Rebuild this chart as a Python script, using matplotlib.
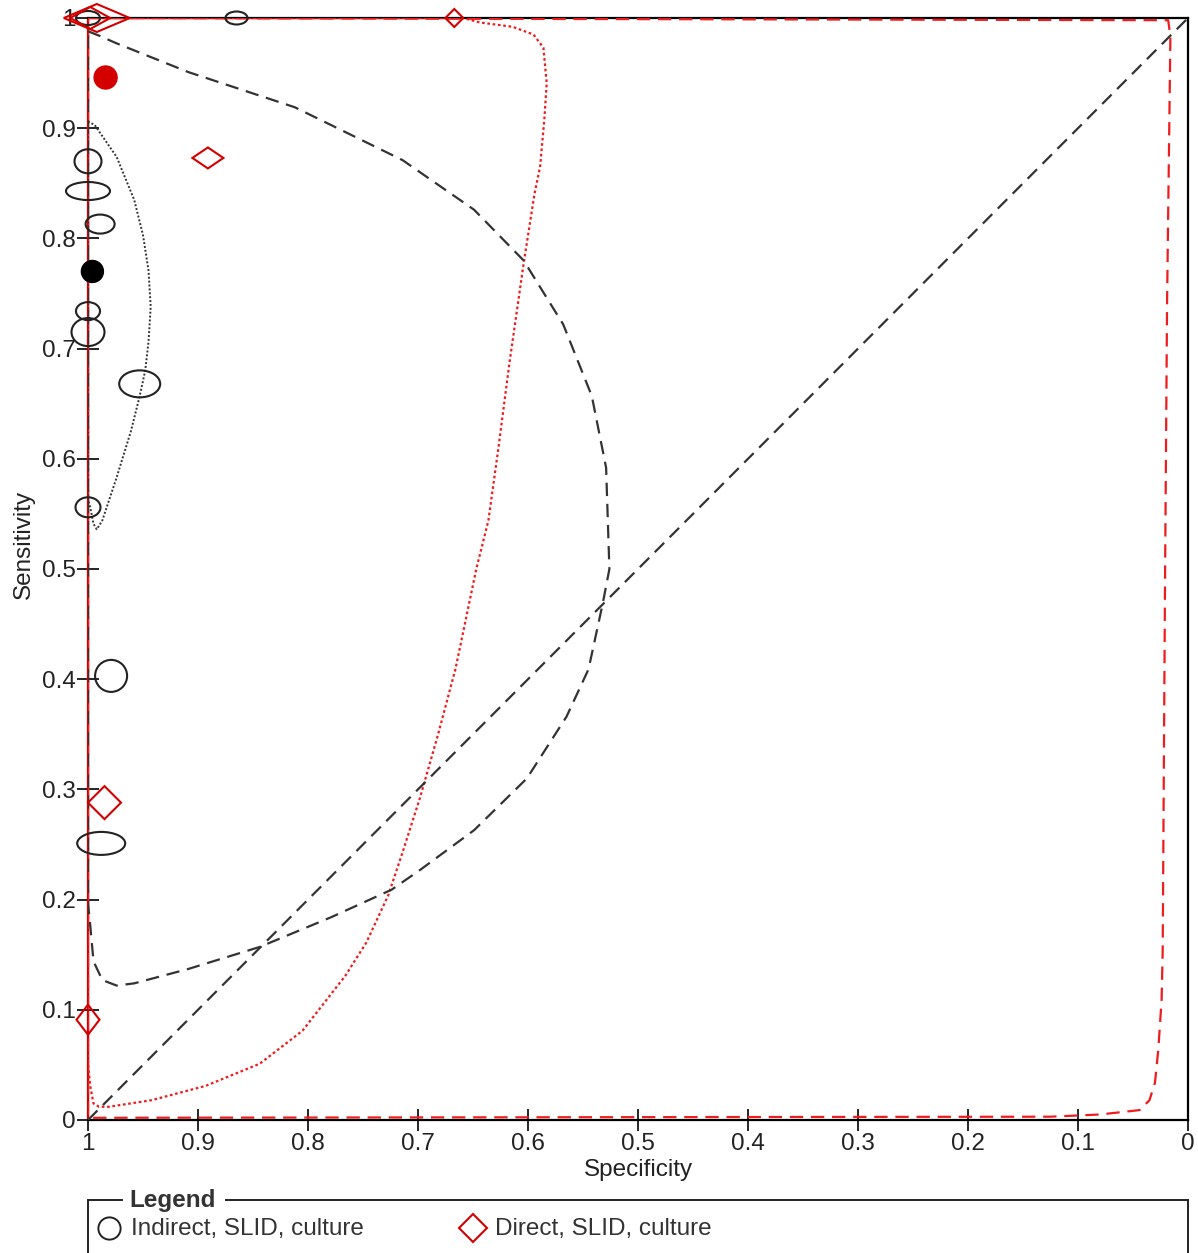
import matplotlib
matplotlib.use("Agg")
import matplotlib.pyplot as plt
from matplotlib.patches import Ellipse, Polygon
from matplotlib.lines import Line2D

plt.rcParams['font.family'] = ['Liberation Sans', 'DejaVu Sans']

# ---------------- data ----------------
# Indirect, SLID, culture studies (specificity, sensitivity, relative size in neg / pos)
ind_spec = [1.0, 0.865, 1.0, 1.0, 0.989, 1.0, 1.0, 0.953, 1.0, 0.979, 0.988]
ind_sens = [1.0, 1.0, 0.870, 0.843, 0.813, 0.734, 0.715, 0.668, 0.556, 0.403, 0.251]
ind_nneg = [24, 22, 27, 44, 29, 24, 33, 41, 25, 32, 48]
ind_npos = [14, 13, 24, 18, 19, 18, 28, 27, 20, 32, 23]
ind_summary = (0.996, 0.770)

# Direct, SLID, culture studies
dir_spec = [0.992, 0.998, 0.667, 0.891, 0.985, 1.0]
dir_sens = [1.0, 1.0, 1.0, 0.873, 0.288, 0.091]
dir_nneg = [66, 40, 18, 31, 33, 23]
dir_npos = [28, 22, 18, 21, 33, 30]
dir_summary = (0.984, 0.946)

# Indirect: 95% confidence region (dotted) and prediction region (dashed)
ind_conf_spec = [1.0, 0.994, 0.974, 0.958, 0.950, 0.945, 0.943, 0.945, 0.948, 0.953,
                 0.961, 0.974, 0.987, 0.992, 0.995, 0.998, 1.0, 1.0]
ind_conf_sens = [0.906, 0.903, 0.874, 0.835, 0.803, 0.771, 0.738, 0.706, 0.680, 0.657,
                 0.625, 0.583, 0.544, 0.536, 0.541, 0.556, 0.563, 0.906]
ind_pred_spec = [1.0, 0.990, 0.974, 0.909, 0.812, 0.714, 0.649, 0.604, 0.568, 0.542, 0.529,
                 0.526, 0.532, 0.545, 0.565, 0.601, 0.649, 0.698, 0.724, 0.779, 0.844,
                 0.909, 0.958, 0.974, 0.987, 0.995, 0.998, 1.0, 1.0]
ind_pred_sens = [0.988, 0.984, 0.977, 0.951, 0.919, 0.871, 0.826, 0.780, 0.722, 0.657, 0.592,
                 0.500, 0.469, 0.409, 0.366, 0.310, 0.263, 0.227, 0.209, 0.184, 0.157,
                 0.137, 0.124, 0.122, 0.127, 0.144, 0.177, 0.197, 0.988]

# Direct: 95% confidence region (dotted) and prediction region (dashed)
dir_conf_spec = [1.0, 0.659, 0.644, 0.614, 0.595, 0.586, 0.583, 0.585, 0.589, 0.594, 0.604,
                 0.617, 0.627, 0.636, 0.647, 0.666, 0.682, 0.698, 0.714, 0.727, 0.747,
                 0.766, 0.805, 0.844, 0.893, 0.942, 0.981, 0.990, 0.995, 0.998, 1.0, 1.0]
dir_conf_sens = [1.0, 1.0, 0.996, 0.992, 0.985, 0.973, 0.941, 0.910, 0.865, 0.841, 0.777,
                 0.686, 0.609, 0.544, 0.500, 0.409, 0.349, 0.293, 0.243, 0.204, 0.161,
                 0.131, 0.081, 0.051, 0.031, 0.018, 0.012, 0.012, 0.015, 0.031, 0.051, 1.0]
dir_pred_spec = [1.0, 0.018, 0.016, 0.019, 0.021, 0.023, 0.024, 0.027, 0.030, 0.035,
                 0.044, 0.080, 0.125, 1.0, 1.0]
dir_pred_sens = [1.0, 0.998, 0.983, 0.744, 0.472, 0.154, 0.109, 0.064, 0.034, 0.018,
                 0.009, 0.005, 0.003, 0.002, 1.0]

# reference diagonal
diag_spec = [1.0, 0.0]
diag_sens = [0.0, 1.0]

tick_vals = [1.0, 0.9, 0.8, 0.7, 0.6, 0.5, 0.4, 0.3, 0.2, 0.1, 0.0]
tick_labels = ['1', '0.9', '0.8', '0.7', '0.6', '0.5', '0.4', '0.3', '0.2', '0.1', '0']
legend_labels = ['Indirect, SLID, culture', 'Direct, SLID, culture']

# ---------------- figure ----------------
W, H, DPI = 1198, 1253, 100
fig = plt.figure(figsize=(W / DPI, H / DPI), dpi=DPI)
L, R, T, B = 88, 1188, 18, 1120
ax = fig.add_axes([L / W, 1 - B / H, (R - L) / W, (B - T) / H])
ax.set_xlim(1, 0)
ax.set_ylim(0, 1)

RED = '#d40000'
RED_L = '#ee1c1c'
px_x = (R - L)  # pixels per unit spec
px_y = (B - T)  # pixels per unit sens
FS = 17.5

# regions
ax.plot(dir_pred_spec, dir_pred_sens, color=RED_L, lw=1.6, dashes=(6, 3.5), zorder=3)
ax.plot(dir_conf_spec, dir_conf_sens, color=RED_L, lw=1.6, dashes=(1.2, 1.2), zorder=3)
ax.plot(diag_spec, diag_sens, color='#333333', lw=1.6, dashes=(6, 3.5), zorder=3)
ax.plot(ind_pred_spec, ind_pred_sens, color='#333333', lw=1.6, dashes=(6, 3.5), zorder=3)
ax.plot(ind_conf_spec, ind_conf_sens, color='#333333', lw=1.4, dashes=(1, 1), zorder=3)
# solid red along left edge (overlapping region boundaries)
ax.plot([1.0, 1.0], [0.0, 1.0], color=RED, lw=1.6, zorder=2.8)
ax.plot([1.0, 0.659], [1.0, 1.0], color=RED, lw=1.6, zorder=2.8)

# study markers
for x, y, w, h in zip(ind_spec, ind_sens, ind_nneg, ind_npos):
    e = Ellipse((x, y), w / px_x, h / px_y, fill=False, ec='#222222', lw=1.5,
                clip_on=False, zorder=5)
    ax.add_patch(e)
for x, y, w, h in zip(dir_spec, dir_sens, dir_nneg, dir_npos):
    dx, dy = w / px_x / 2, h / px_y / 2
    p = Polygon([(x - dx, y), (x, y + dy), (x + dx, y), (x, y - dy)], closed=True,
                fill=False, ec=RED, lw=1.5, clip_on=False, zorder=5)
    ax.add_patch(p)

ax.add_patch(Ellipse(ind_summary, 22 / px_x, 22 / px_y, fc='black', ec='black',
                     clip_on=False, zorder=6))
ax.add_patch(Ellipse(dir_summary, 23 / px_x, 23 / px_y, fc=RED, ec=RED,
                     clip_on=False, zorder=6))

# axes styling
ax.set_xticks(tick_vals)
ax.set_xticklabels(tick_labels)
ax.set_yticks(tick_vals)
ax.set_yticklabels(tick_labels)
ax.tick_params(direction='inout', length=16, width=1.2, labelsize=FS,
               labelcolor='#222222', pad=1)
for s in ax.spines.values():
    s.set_linewidth(1.6)
    s.set_color('black')
ax.spines['left'].set_color(RED)
ax.set_xlabel('Specificity', fontsize=FS, color='#222222', labelpad=3)
ax.set_ylabel('Sensitivity', fontsize=FS, color='#222222')
ax.yaxis.set_label_coords(-0.048, 0.522)

# legend box
def fx(p):
    return p / W

def fy(p):
    return 1 - p / H

lw = 1.4
fig.add_artist(Line2D([fx(88), fx(122)], [fy(1200), fy(1200)], color='#222222', lw=lw))
fig.add_artist(Line2D([fx(226), fx(1188)], [fy(1200), fy(1200)], color='#222222', lw=lw))
fig.add_artist(Line2D([fx(88), fx(88)], [fy(1200), fy(1253)], color='#222222', lw=lw))
fig.add_artist(Line2D([fx(1188), fx(1188)], [fy(1200), fy(1253)], color='#222222', lw=lw))
fig.text(fx(129), fy(1200), 'Legend', fontsize=FS, fontweight='bold', color='#333333',
         ha='left', va='center')
fig.add_artist(Line2D([fx(109)], [fy(1228)], marker='o', ms=16, mfc='none', mec='#222222',
                      mew=1.4, ls='none'))
fig.text(fx(131), fy(1229), legend_labels[0], fontsize=FS, color='#333333',
         ha='left', va='center')
fig.add_artist(Line2D([fx(473)], [fy(1228)], marker='D', ms=14, mfc='none', mec=RED,
                      mew=1.5, ls='none'))
fig.text(fx(495), fy(1229), legend_labels[1], fontsize=FS, color='#333333',
         ha='left', va='center')

fig.savefig('out.png', dpi=DPI)
